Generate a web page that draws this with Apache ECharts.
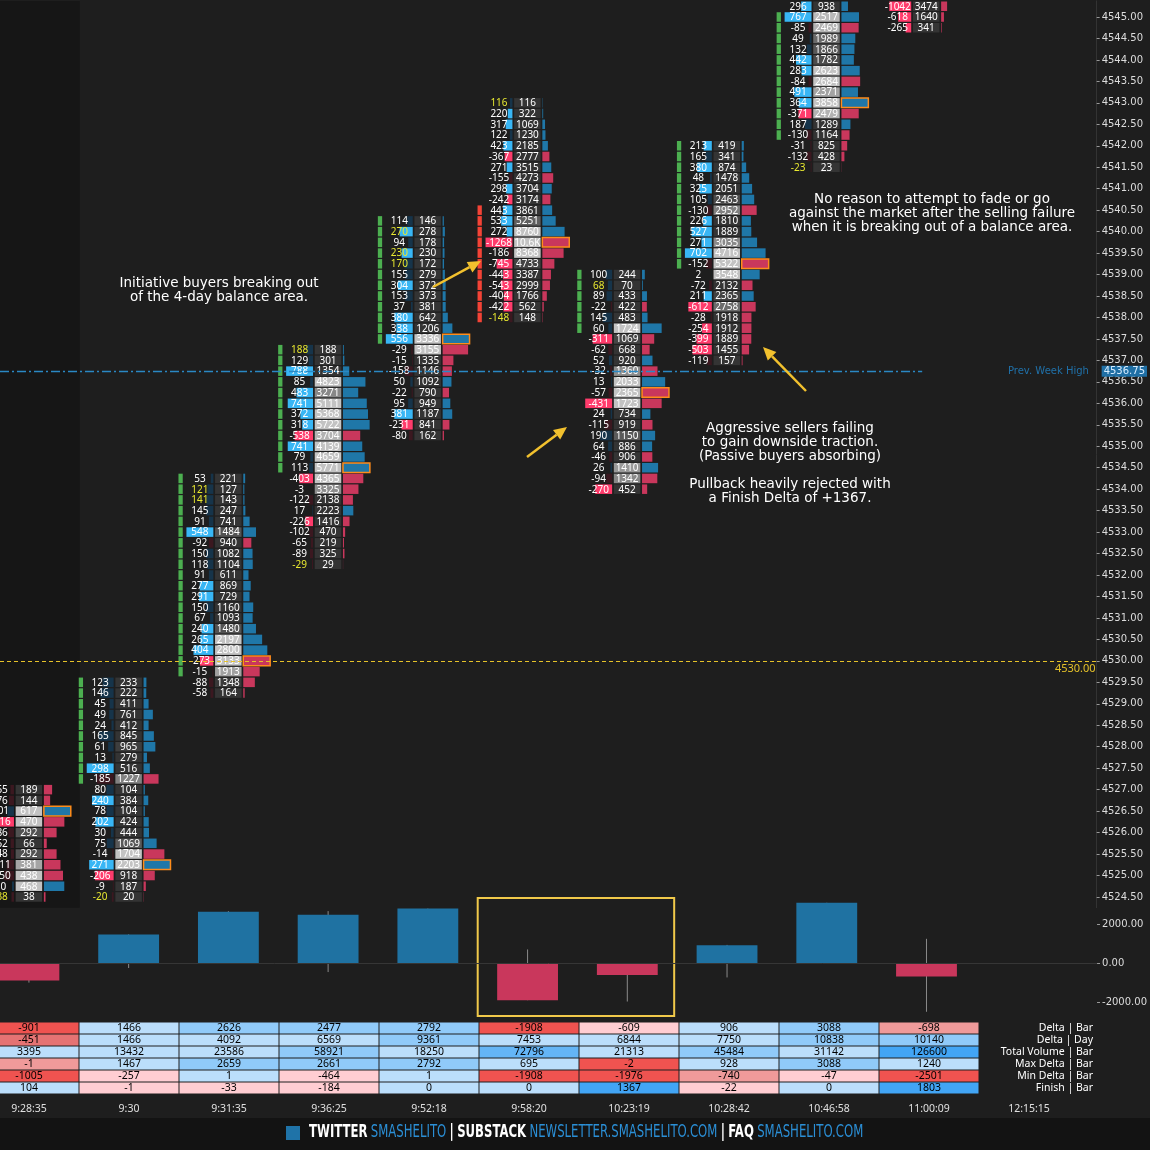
<!DOCTYPE html>
<html><head><meta charset="utf-8">
<script src="https://cdn.jsdelivr.net/npm/echarts@6/dist/echarts.min.js"></script>
<style>html,body{margin:0;padding:0;background:#1e1e1e}#c{width:1150px;height:1150px}</style>
</head><body><div id="c"></div><script>
// ---------- DATA ----------
const times = ['9:28:35','9:30','9:31:35','9:36:25','9:52:18','9:58:20','10:23:19','10:28:42','10:46:58','11:00:09','12:15:15'];
const barTop = [4527.00, 4529.50, 4534.25, 4537.25, 4540.25, 4543.00, 4539.00, 4542.00, 4545.25, 4545.50];
const b1Delta = [-55,-76,101,-416,-86,-52,-48,-111,-150,30,-38];
const b1Vol   = [189,144,617,470,292,66,292,381,438,468,38];
const b2Delta = [123,146,45,49,24,165,61,13,298,-185,80,240,78,202,30,75,-14,271,-206,-9,-20];
const b2Vol   = [233,222,411,761,412,845,965,279,516,1227,104,384,104,424,444,1069,1704,2203,918,187,20];
const b3Delta = [53,121,141,145,91,548,-92,150,118,91,277,291,150,67,240,265,404,-273,-15,-88,-58];
const b3Vol   = [221,127,143,247,741,1484,940,1082,1104,611,869,729,1160,1093,1480,2197,2800,3133,1913,1348,164];
const b4Delta = [188,129,788,85,483,741,372,318,-538,741,79,113,-403,-3,-122,17,-226,-102,-65,-89,-29];
const b4Vol   = [188,301,1354,4823,3271,5111,5368,5722,3704,4139,4659,5771,4365,3325,2138,2223,1416,470,219,325,29];
const b5Delta = [114,270,94,230,170,155,304,153,37,380,338,556,-29,-15,-158,50,-22,95,381,-231,-80];
const b5Vol   = [146,278,178,230,172,279,372,373,381,642,1206,3336,3155,1335,1146,1092,790,949,1187,841,162];
const b6Delta = [116,220,317,122,423,-367,271,-155,298,-242,443,533,272,-1268,-186,-745,-443,-543,-404,-422,-148];
const b6Vol   = [116,322,1069,1230,2185,2777,3515,4273,3704,3174,3861,5251,8760,10596,8368,4733,3387,2999,1766,562,148];
const b7Delta = [100,68,89,-22,145,60,-311,-62,52,-32,13,-57,-431,24,-115,190,64,-46,26,-94,-270];
const b7Vol   = [244,70,433,422,483,1724,1069,668,920,1360,2033,2365,1723,734,919,1150,886,906,1410,1342,452];
const b8Delta = [213,165,380,48,325,105,-130,226,527,271,702,-152,2,-72,211,-612,-28,-254,-399,-503,-119];
const b8Vol   = [419,341,874,1478,2051,2463,2952,1810,1889,3035,4716,5322,3548,2132,2365,2758,1918,1912,1889,1455,157];
const b9Delta = [296,767,-85,49,132,442,283,-84,491,364,-371,187,-130,-31,-132,-23];
const b9Vol   = [938,2517,2469,1989,1866,1782,2623,2684,2371,3858,2479,1289,1164,825,428,23];
const b10Delta = [-1280,-1042,-618,-265];
const b10Vol   = [15600,3474,1640,341];
// indicator column: [firstRow, lastRow, side]
const markRows = [[0,-1,0],[0,9,1],[0,18,1],[0,11,1],[0,11,1],[10,20,-1],[0,5,1],[0,11,1],[1,12,1],[0,-1,0]];

const deltaBar    = [-901,1466,2626,2477,2792,-1908,-609,906,3088,-698];
const deltaDay    = [-451,1466,4092,6569,9361,7453,6844,7750,10838,10140];
const totalVol    = [3395,13432,23586,58921,18250,72796,21313,45484,31142,126600];
const maxDelta    = [-1,1467,2659,2661,2792,695,-2,928,3088,1240];
const minDelta    = [-1005,-257,1,-464,1,-1908,-1976,-740,-47,-2501];
const finishDelta = [104,-1,-33,-184,0,0,1367,-22,0,1803];
const rowLabels = ['Delta | Bar','Delta | Day','Total Volume | Bar','Max Delta | Bar','Min Delta | Bar','Finish | Bar'];

const priceTicks = [4524.5,4525,4525.5,4526,4526.5,4527,4527.5,4528,4528.5,4529,4529.5,4530,4530.5,4531,4531.5,4532,4532.5,4533,4533.5,4534,4534.5,4535,4535.5,4536,4536.5,4537,4537.5,4538,4538.5,4539,4539.5,4540,4540.5,4541,4541.5,4542,4542.5,4543,4543.5,4544,4544.5,4545];
const prevWeekHigh = 4536.75;
const refLevel = 4530.00;
const deltaTicks = [-2000, 0, 2000];

// ---------- BUILD ----------
const barDeltas = [b1Delta,b2Delta,b3Delta,b4Delta,b5Delta,b6Delta,b7Delta,b8Delta,b9Delta,b10Delta];
const barVols = [b1Vol,b2Vol,b3Vol,b4Vol,b5Vol,b6Vol,b7Vol,b8Vol,b9Vol,b10Vol];
const fpData = [];
barDeltas.forEach((ds,k)=>{
  const vs = barVols[k];
  const maxV = Math.max(...vs);
  const maxD = Math.max(...ds.map(Math.abs));
  const poc = vs.indexOf(maxV);
  const m = markRows[k];
  ds.forEach((d,i)=>{
    const side = (m[2]!==0 && i>=m[0] && i<=m[1]) ? m[2] : 0;
    fpData.push([k, barTop[k]-0.25*i, d, vs[i], maxV, maxD, i===poc?1:0, side]);
  });
});
const deltaData = deltaBar.map((d,k)=>[k,d,maxDelta[k],minDelta[k]]);
const tableRows = [deltaBar,deltaDay,totalVol,maxDelta,minDelta,finishDelta];
const tableData = [];
tableRows.forEach((row,r)=>row.forEach((v,k)=>tableData.push([k,r,v])));

const FONT = 'Noto Sans';
function fmtVol(v){ return v>=10000 ? (v/1000).toFixed(1)+'K' : String(v); }

function renderFP(params, api){
  const k=api.value(0), p=api.value(1), d=api.value(2), v=api.value(3), maxV=api.value(4), maxD=api.value(5), poc=api.value(6), side=api.value(7);
  const c=api.coord([k,p]); const sz=api.size([1,0.25]); const u=sz[0]/100; const h=sz[1]-1.2;
  if(c[1] < 0) return null;
  const y0=c[1]-h/2, cx=c[0];
  const ch=[];
  if(side) ch.push({type:'rect',shape:{x:cx-50*u,y:y0,width:4.3*u,height:h},style:{fill:side>0?'#4caf50':'#f44336'}});
  const dw=27*u*Math.abs(d)/maxD;
  const bright=Math.abs(d)>=200;
  ch.push({type:'rect',shape:{x:cx-15*u-dw,y:y0,width:dw,height:h},style:{fill:d>=0?(bright?'#38b6f5':'#16344a'):(bright?'#ff3b6b':'#3b1820')}});
  const yellow=Math.abs(d)>=0.95*v;
  ch.push({type:'text',style:{text:String(d),x:cx-28.5*u,y:c[1]+0.5,fill:yellow?'#e8e830':'#ffffff',fontSize:10,fontFamily:FONT,align:'center',verticalAlign:'middle'}});
  const r=v/maxV; const t=Math.min(1,Math.max(0,(r-0.42)/0.25)); const g=Math.round(52+t*143);
  ch.push({type:'rect',shape:{x:cx-13.3*u,y:y0,width:26.6*u,height:h},style:{fill:'rgb('+g+','+g+','+g+')'}});
  ch.push({type:'text',style:{text:fmtVol(v),x:cx,y:c[1]+0.5,fill:'#ffffff',fontSize:10,fontFamily:FONT,align:'center',verticalAlign:'middle'}});
  ch.push({type:'rect',shape:{x:cx+15*u,y:y0,width:27*u*r,height:h},style:{fill:d>=0?'#1f77a8':'#c9375c'}});
  if(poc) ch.push({type:'rect',shape:{x:cx+15*u,y:y0,width:27*u,height:h},style:{fill:'none',stroke:'#ff8c1a',lineWidth:1.5}});
  return {type:'group',children:ch};
}
function renderDelta(params, api){
  const k=api.value(0), d=api.value(1), hi=api.value(2), lo=api.value(3);
  const z=api.coord([k,0]), c=api.coord([k,d]), ph=api.coord([k,Math.max(hi,0)]), pl=api.coord([k,Math.min(lo,0)]);
  const w=api.size([0.61,0])[0];
  return {type:'group',children:[
    {type:'line',shape:{x1:z[0],y1:ph[1],x2:z[0],y2:pl[1]},style:{stroke:'#8a8a8a',lineWidth:1}},
    {type:'rect',shape:{x:z[0]-w/2,y:Math.min(z[1],c[1]),width:w,height:Math.abs(c[1]-z[1])},style:{fill:d>=0?'#1f72a2':'#c9375c'}}
  ]};
}
const POS=['#bbdefb','#90caf9','#64b5f6','#42a5f5'], NEG=['#ffcdd2','#ef9a9a','#e57373','#ef5350'];
const INF=Infinity;
const tableScale=[
  {p:[2000,INF,INF],n:[650,850,850]},
  {p:[8000,INF,INF],n:[100,400,INF]},
  {p:[40000,65000,100000],n:[INF,INF,INF]},
  {p:[2000,INF,INF],n:[1,2,2]},
  {p:[INF,INF,INF],n:[600,900,900]},
  {p:[1000,1000,1000],n:[INF,INF,INF]}
];
function cellColor(r,v){
  const s=tableScale[r];
  if(v>=0) return POS[s.p.filter(t=>v>=t).length];
  return NEG[s.n.filter(t=>-v>=t).length];
}
function renderTable(params, api){
  const k=api.value(0), r=api.value(1), v=api.value(2);
  const c=api.coord([k,r]); const s=api.size([1,1]);
  return {type:'group',children:[
    {type:'rect',shape:{x:c[0]-s[0]/2+0.5,y:c[1]-s[1]/2+0.5,width:s[0]-1,height:s[1]-1},style:{fill:cellColor(r,v)}},
    {type:'text',style:{text:String(v),x:c[0],y:c[1]+0.5,fill:'#000',fontSize:10.5,fontFamily:FONT,align:'center',verticalAlign:'middle'}}
  ]};
}
function renderSession(params, api){
  const a=api.coord([api.value(0),4545.375]), b=api.coord([api.value(1),4524.25]);
  return {type:'rect',shape:{x:a[0],y:a[1],width:b[0]-a[0],height:b[1]-a[1]},style:{fill:'#161616'}};
}

function arrow(x1,y1,x2,y2){
  const ang=Math.atan2(y2-y1,x2-x1), L=13, W=6;
  const bx=x2-L*Math.cos(ang), by=y2-L*Math.sin(ang);
  const nx=-Math.sin(ang)*W, ny=Math.cos(ang)*W;
  return [
    {type:'line',shape:{x1:x1,y1:y1,x2:bx,y2:by},style:{stroke:'#f2c12e',lineWidth:2.5},z:50},
    {type:'polygon',shape:{points:[[x2,y2],[bx+nx,by+ny],[bx-nx,by-ny]]},style:{fill:'#f2c12e'},z:50}
  ];
}
function note(x,y,text){
  return {type:'text',z:50,style:{text:text,x:x,y:y,fill:'#ffffff',fontSize:13.5,fontFamily:'DejaVu Sans',align:'center',verticalAlign:'middle',lineHeight:14}};
}

const axisTxt = {color:'#dcdcdc',fontSize:10,fontFamily:'DejaVu Sans'};
const XMIN=-0.29, XMAX=10.71;
const BLUE_LINE = {color:'#2a88c4',type:[9,3,2,3],width:1.3};
const option = {
  backgroundColor:'#1e1e1e',
  animation:false,
  grid:[
    {left:0,right:50,top:0.9,height:906.8},
    {left:0,right:50,top:885,height:156},
    {left:0,right:50,top:1022,height:72}
  ],
  xAxis:[
    {gridIndex:0,type:'value',min:XMIN,max:XMAX,show:false},
    {gridIndex:1,type:'value',min:XMIN,max:XMAX,show:false},
    {gridIndex:2,type:'value',min:XMIN,max:XMAX,axisLine:{show:false,onZero:false},axisTick:{show:false},splitLine:{show:false},
      axisLabel:{customValues:[0,1,2,3,4,5,6,7,8,9,10],formatter:v=>times[Math.round(v)],color:'#e0e0e0',fontSize:10.5,fontFamily:FONT,margin:10}}
  ],
  yAxis:[
    {gridIndex:0,type:'value',position:'right',min:4524.25,max:4545.375,splitLine:{show:false},
      axisLine:{show:true,onZero:false,lineStyle:{color:'#333'}},
      axisTick:{show:true,length:3,customValues:priceTicks,lineStyle:{color:'#999'}},
      axisLabel:Object.assign({customValues:priceTicks.concat([prevWeekHigh]),margin:5,
        formatter:v=>Math.abs(v-prevWeekHigh)<1e-6?'{tag|'+v.toFixed(2)+'}':v.toFixed(2),
        rich:{tag:{backgroundColor:'#1f6fa5',color:'#d6ecff',padding:[1,2,0,2],fontSize:10,fontFamily:'DejaVu Sans'}}},axisTxt)},
    {gridIndex:1,type:'value',position:'right',min:-4000,max:4000,splitLine:{show:false},
      axisLine:{show:false,onZero:false},
      axisTick:{show:true,length:3,customValues:deltaTicks,lineStyle:{color:'#999'}},
      axisLabel:Object.assign({customValues:deltaTicks,margin:5,formatter:v=>v.toFixed(2)},axisTxt)},
    {gridIndex:2,type:'category',data:rowLabels,inverse:true,position:'right',axisLine:{show:false,onZero:false},axisTick:{show:false},splitLine:{show:false},
      axisLabel:{inside:true,interval:0,margin:7,color:'#ffffff',fontSize:10.5,fontFamily:FONT}}
  ],
  series:[
    {type:'custom',name:'session',xAxisIndex:0,yAxisIndex:0,z:1,renderItem:renderSession,data:[[XMIN,0.51]],silent:true},
    {type:'custom',name:'footprint',xAxisIndex:0,yAxisIndex:0,z:2,renderItem:renderFP,data:fpData,silent:true,
      markLine:{silent:true,symbol:'none',animation:false,lineStyle:BLUE_LINE,data:[
        {yAxis:refLevel,lineStyle:{color:'#e6c229',type:[4,3],width:1},label:{show:true,position:'insideEndBottom',distance:[1,2],formatter:'4530.00',color:'#e6c229',fontSize:11,fontFamily:FONT}},
        [{coord:[XMIN,prevWeekHigh],lineStyle:BLUE_LINE,label:{show:false}},{coord:[8.96,prevWeekHigh],lineStyle:BLUE_LINE}],
        [{coord:[9.76,prevWeekHigh],lineStyle:{color:'rgba(0,0,0,0)',width:0.1},label:{show:true,position:'end',distance:5,formatter:'Prev. Week High',color:'#2070a8',fontSize:10,fontFamily:'DejaVu Sans'}},{coord:[9.77,prevWeekHigh],lineStyle:{color:'rgba(0,0,0,0)',width:0.1}}]
      ]}},
    {type:'custom',name:'delta',xAxisIndex:1,yAxisIndex:1,z:2,renderItem:renderDelta,data:deltaData,silent:true,
      markLine:{silent:true,symbol:'none',data:[{yAxis:0,lineStyle:{color:'#363636',type:'solid',width:1},label:{show:false}}]},
      markArea:{silent:true,data:[[{coord:[4.5,3333],itemStyle:{color:'rgba(0,0,0,0)',borderColor:'#f0c94a',borderWidth:2}},{coord:[6.47,-2718]}]]}},
    {type:'custom',name:'table',xAxisIndex:2,yAxisIndex:2,z:2,renderItem:renderTable,data:tableData,silent:true}
  ],
  graphic:[].concat(
    arrow(433,287,481,261),
    arrow(527,457,567,427),
    arrow(806,391,763,347),
    [
      note(219,290,'Initiative buyers breaking out\nof the 4-day balance area.'),
      note(932,213,'No reason to attempt to fade or go\nagainst the market after the selling failure\nwhen it is breaking out of a balance area.'),
      note(790,442,'Aggressive sellers failing\nto gain downside traction.\n(Passive buyers absorbing)'),
      note(790,491,'Pullback heavily rejected with\na Finish Delta of +1367.'),
      {type:'rect',z:40,shape:{x:0,y:1118,width:1150,height:32},style:{fill:'#131313'}},
      {type:'rect',z:41,shape:{x:286,y:1126,width:14,height:14},style:{fill:'#1f73a8'}},
      {type:'text',z:41,x:309,y:1133,scaleY:1.3,style:{x:0,y:0,align:'left',verticalAlign:'middle',
        text:'{w|TWITTER} {b|SMASHELITO} {w||} {w|SUBSTACK} {b|NEWSLETTER.SMASHELITO.COM} {w||} {w|FAQ} {b|SMASHELITO.COM}',
        rich:{w:{fill:'#ffffff',color:'#ffffff',fontSize:13,fontWeight:'bold',fontFamily:'DejaVu Sans Condensed'},
              b:{fill:'#2b8fd6',color:'#2b8fd6',fontSize:13,fontFamily:'DejaVu Sans Condensed'}}}}
    ]
  )
};
const chart = echarts.init(document.getElementById('c'));
chart.setOption(option);
</script></body></html>
